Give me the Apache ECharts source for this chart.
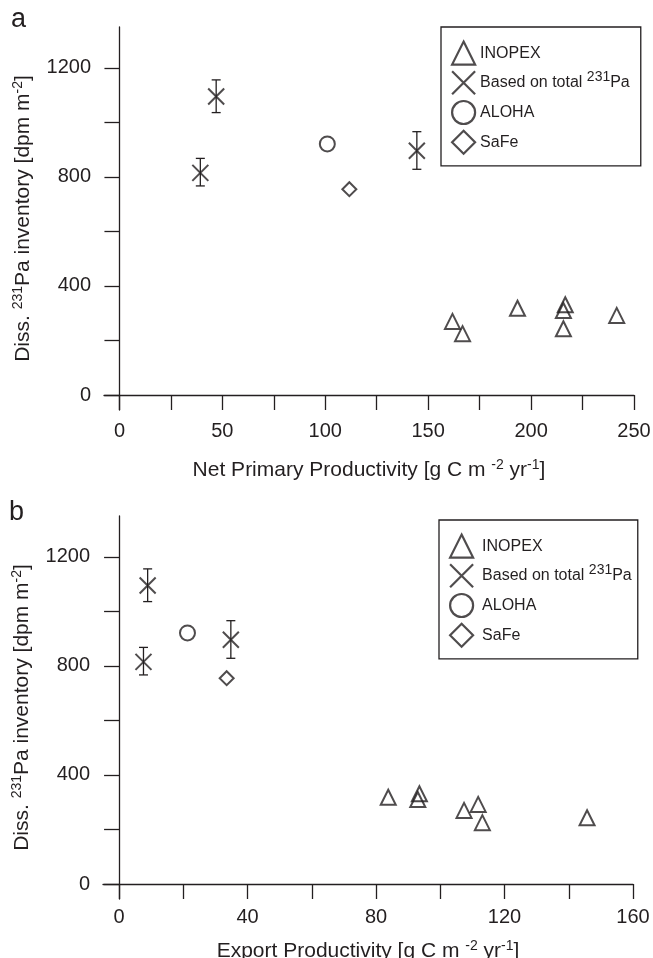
<!DOCTYPE html>
<html>
<head>
<meta charset="utf-8">
<script src="https://cdn.jsdelivr.net/npm/echarts@6/dist/echarts.min.js"></script>
<style>
  html, body { margin: 0; padding: 0; background: #fff; }
  #chart { width: 653px; height: 958px; }
</style>
</head>
<body>
<div id="chart"></div>
<script>
// INOPEX sites
const inopexPa = [270, 225, 318, 331, 310, 243, 292]
const inopexNpp = [161.8, 166.7, 193.4, 216.6, 215.7, 215.7, 241.6]
const inopexExport = [107.4, 113.1, 83.8, 93.5, 93.0, 145.7, 111.8]

// based on total 231Pa, with error bars
const totalPa = [815, 1095, 896]
const totalPaLow = [767, 1036, 828]
const totalPaHigh = [868, 1156, 966]
const totalNpp = [39.3, 47, 144.5]
const totalExport = [7.6, 8.9, 34.8]

const alohaPa = [921]
const alohaNpp = [101]
const alohaExport = [21.3]

const safePa = [755]
const safeNpp = [111.7]
const safeExport = [33.5]

const nppTicks = [0, 25, 50, 75, 100, 125, 150, 175, 200, 225, 250]
const nppLabels = [0, 50, 100, 150, 200, 250]
const exportTicks = [0, 20, 40, 60, 80, 100, 120, 140, 160]
const exportLabels = [0, 40, 80, 120, 160]
const paTicks = [0, 200, 400, 600, 800, 1000, 1200]
const paLabels = [0, 400, 800, 1200]

const ink = "#231f20"
const font = "'Liberation Sans', Arial, sans-serif"
const crossPath = "path://M0,0L10,10M10,0L0,10"

function pairs(xs, ys) {
    return xs.map((x, i) => [x, ys[i]])
}

function xAxisFor(grid, min, max, ticks, labels, name, labelMargin, nameGap) {
    return {
        gridIndex: grid,
        type: "value",
        min: min,
        max: max,
        name: name,
        nameLocation: "middle",
        nameGap: nameGap,
        nameTextStyle: {
            color: ink,
            fontFamily: font,
            fontSize: 21,
            lineHeight: 24,
            rich: { sup: { fontSize: 14, lineHeight: 14, verticalAlign: "top", color: ink, fontFamily: font } },
        },
        axisLine: { onZero: true, lineStyle: { color: ink, width: 1.3 } },
        axisTick: { length: 15, customValues: ticks, lineStyle: { color: ink, width: 1.3 } },
        axisLabel: { customValues: labels, margin: labelMargin, color: ink, fontFamily: font, fontSize: 20, formatter: (v) => String(v) },
        splitLine: { show: false },
    }
}

function yAxisFor(grid) {
    return {
        gridIndex: grid,
        type: "value",
        min: -55,
        max: 1350,
        name: "Diss. {sup|231}Pa inventory [dpm m{sup|-2}]",
        nameLocation: "middle",
        nameGap: 66,
        nameTextStyle: {
            color: ink,
            fontFamily: font,
            fontSize: 21,
            lineHeight: 24,
            rich: { sup: { fontSize: 14, lineHeight: 14, verticalAlign: "top", color: ink, fontFamily: font } },
        },
        axisLine: { onZero: true, lineStyle: { color: ink, width: 1.3 } },
        axisTick: { length: 15, customValues: paTicks, lineStyle: { color: ink, width: 1.3 } },
        axisLabel: { customValues: paLabels, margin: 13, color: ink, fontFamily: font, fontSize: 20, formatter: (v) => String(v) },
        splitLine: { show: false },
    }
}

function errorBars(grid, xs) {
    return {
        type: "custom",
        xAxisIndex: grid,
        yAxisIndex: grid,
        silent: true,
        data: xs.map((x, i) => [x, totalPaLow[i], totalPaHigh[i]]),
        renderItem: function (params, api) {
            const top = api.coord([api.value(0), api.value(2)])
            const bot = api.coord([api.value(0), api.value(1)])
            const style = { stroke: ink, lineWidth: 1.3 }
            return {
                type: "group",
                children: [
                    { type: "line", shape: { x1: top[0], y1: top[1], x2: bot[0], y2: bot[1] }, style: style },
                    { type: "line", shape: { x1: top[0] - 4.5, y1: top[1], x2: top[0] + 4.5, y2: top[1] }, style: style },
                    { type: "line", shape: { x1: bot[0] - 4.5, y1: bot[1], x2: bot[0] + 4.5, y2: bot[1] }, style: style },
                ],
            }
        },
    }
}

function scatter(grid, name, symbol, size, data) {
    return {
        name: name,
        type: "scatter",
        xAxisIndex: grid,
        yAxisIndex: grid,
        symbol: symbol,
        symbolSize: size,
        itemStyle: { color: "rgba(255,255,255,0)", borderColor: ink, borderWidth: 2 },
        data: data,
        z: 3,
    }
}

function legendFor(top, left, textShift, rightPad) {
    return {
        orient: "vertical",
        top: top,
        left: left,
        padding: [13.5, rightPad, 11, 10],
        itemGap: 4.5,
        itemWidth: 23,
        itemHeight: 23,
        borderColor: ink,
        borderWidth: 1.3,
        data: ["INOPEX", "Based on total 231Pa", "ALOHA", "SaFe"],
        itemStyle: { borderWidth: 2.2 },
        formatter: function (name) {
            return name === "Based on total 231Pa" ? "Based on total {sup|231}Pa" : name
        },
        textStyle: {
            color: ink,
            fontFamily: font,
            fontSize: 16,
            lineHeight: 25,
            padding: [0, 0, 0, textShift],
            rich: { sup: { fontSize: 14, lineHeight: 14, verticalAlign: "top", color: ink, fontFamily: font } },
        },
    }
}

const chart = echarts.init(document.getElementById("chart"), null, { renderer: "canvas" })

chart.setOption({
    animation: false,
    backgroundColor: "#fff",
    title: [
        { text: "a", left: 11, top: 6, padding: 0, textStyle: { fontFamily: font, fontSize: 27, fontWeight: "normal", color: ink } },
        { text: "b", left: 9, top: 499, padding: 0, textStyle: { fontFamily: font, fontSize: 27, fontWeight: "normal", color: ink } },
    ],
    grid: [
        { left: 104, right: 19, top: 27, height: 383, outerBoundsMode: "none" },
        { left: 103, right: 20, top: 516, height: 383, outerBoundsMode: "none" },
    ],
    legend: [legendFor(27, 441, 0, 11), legendFor(520, 439, 4, 6)],
    xAxis: [
        xAxisFor(0, -7.5, 250, nppTicks, nppLabels, "Net Primary Productivity [g C m {sup|-2} yr{sup|-1}]", 11, 48),
        xAxisFor(1, -5, 160, exportTicks, exportLabels, "Export Productivity [g C m {sup|-2} yr{sup|-1}]", 8, 40),
    ],
    yAxis: [yAxisFor(0), yAxisFor(1)],
    series: [
        errorBars(0, totalNpp),
        scatter(0, "INOPEX", "triangle", 15, pairs(inopexNpp, inopexPa)),
        scatter(0, "Based on total 231Pa", crossPath, 16, pairs(totalNpp, totalPa)),
        scatter(0, "ALOHA", "circle", 15, pairs(alohaNpp, alohaPa)),
        scatter(0, "SaFe", "diamond", 14, pairs(safeNpp, safePa)),
        errorBars(1, totalExport),
        scatter(1, "INOPEX", "triangle", 15, pairs(inopexExport, inopexPa)),
        scatter(1, "Based on total 231Pa", crossPath, 16, pairs(totalExport, totalPa)),
        scatter(1, "ALOHA", "circle", 15, pairs(alohaExport, alohaPa)),
        scatter(1, "SaFe", "diamond", 14, pairs(safeExport, safePa)),
    ],
})
</script>
</body>
</html>
